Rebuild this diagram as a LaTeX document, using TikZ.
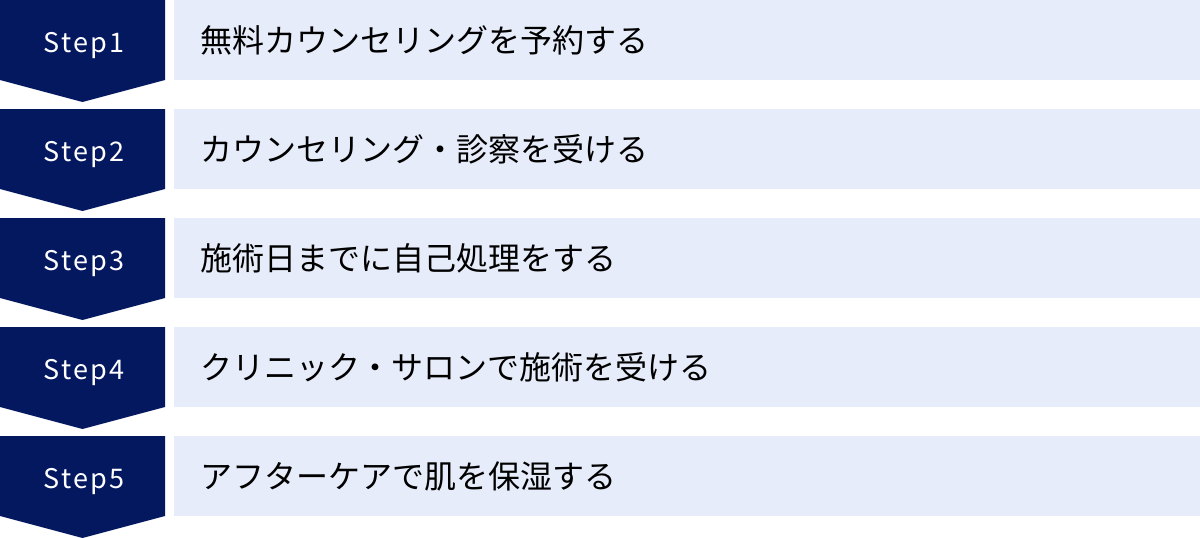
\documentclass[tikz,border=0pt]{standalone}
\usepackage{fontspec}
\setmainfont{Noto Sans CJK JP}
\definecolor{navy}{RGB}{4,24,96}
\definecolor{paleblue}{RGB}{230,236,249}
\newcommand{\stepfont}{\fontsize{27}{32}\selectfont\addfontfeature{LetterSpace=9}}
\newcommand{\barfont}{\fontsize{32}{38}\selectfont}
\begin{document}
\begin{tikzpicture}
		[x=1pt,y=-1pt,
		stepshape/.style={fill=navy},
		steplabel/.style={anchor=base,text=white,inner sep=0pt,font=\stepfont},
		bar/.style={fill=paleblue},
		bartext/.style={anchor=west,inner sep=0pt,text=black,font=\barfont}]
		\useasboundingbox (0,0) rectangle (1200,538);
		% step 1
		\fill[stepshape] (0,0) -- (165,0) -- (165,80) -- (82.5,102) -- (0,80) -- cycle;
		\fill[bar] (174,0) rectangle (1200,80);
		\node at (84,52) (step1) [steplabel] {Step1};
		\node at (200,40) (text1) [bartext] {無料カウンセリングを予約する};
		% step 2
		\fill[stepshape] (0,109) -- (165,109) -- (165,189) -- (82.5,211) -- (0,189) -- cycle;
		\fill[bar] (174,109) rectangle (1200,189);
		\node at (84,161) (step2) [steplabel] {Step2};
		\node at (200,149) (text2) [bartext] {カウンセリング・診察を受ける};
		% step 3
		\fill[stepshape] (0,218) -- (165,218) -- (165,298) -- (82.5,320) -- (0,298) -- cycle;
		\fill[bar] (174,218) rectangle (1200,298);
		\node at (84,270) (step3) [steplabel] {Step3};
		\node at (200,258) (text3) [bartext] {施術日までに自己処理をする};
		% step 4
		\fill[stepshape] (0,327) -- (165,327) -- (165,407) -- (82.5,429) -- (0,407) -- cycle;
		\fill[bar] (174,327) rectangle (1200,407);
		\node at (84,379) (step4) [steplabel] {Step4};
		\node at (200,367) (text4) [bartext] {クリニック・サロンで施術を受ける};
		% step 5
		\fill[stepshape] (0,436) -- (165,436) -- (165,516) -- (82.5,538) -- (0,516) -- cycle;
		\fill[bar] (174,436) rectangle (1200,516);
		\node at (84,488) (step5) [steplabel] {Step5};
		\node at (200,476) (text5) [bartext] {アフターケアで肌を保湿する};
	\end{tikzpicture}
\end{document}
